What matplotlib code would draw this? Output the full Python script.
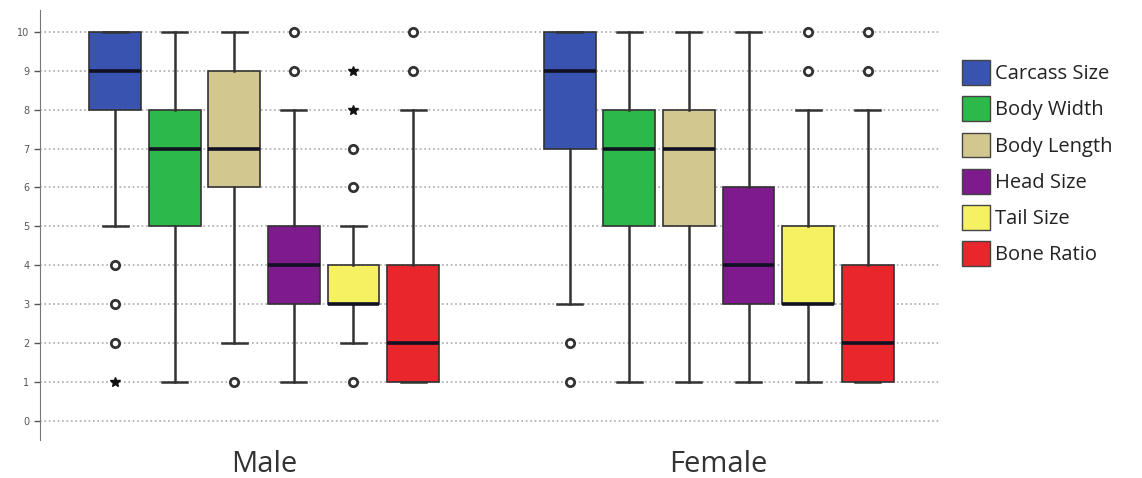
import matplotlib.pyplot as plt
from matplotlib.patches import Patch

# Data
groups = ['Male', 'Female']
measures = ['Carcass Size', 'Body Width', 'Body Length', 'Head Size', 'Tail Size', 'Bone Ratio']
colors = ['#3853b0', '#2db84a', '#d3c790', '#7d1a8c', '#f6f163', '#e8262c']

# per group: q1, median, q3, whisker low, whisker high
male_q1 = [8, 5, 6, 3, 3, 1]
male_med = [9, 7, 7, 4, 3, 2]
male_q3 = [10, 8, 9, 5, 4, 4]
male_lo = [5, 1, 2, 1, 2, 1]
male_hi = [10, 10, 10, 8, 5, 8]
male_out = [[4, 3, 2], [], [1], [9, 10], [1, 6, 7], [9, 10]]
male_ext = [[1], [], [], [], [8, 9], []]

female_q1 = [7, 5, 5, 3, 3, 1]
female_med = [9, 7, 7, 4, 3, 2]
female_q3 = [10, 8, 8, 6, 5, 4]
female_lo = [3, 1, 1, 1, 1, 1]
female_hi = [10, 10, 10, 10, 8, 8]
female_out = [[2, 1], [], [], [], [9, 10], [9, 10]]
female_ext = [[], [], [], [], [], []]

group_offset = [0, 7.63]

fig = plt.figure(figsize=(11.42, 4.78), dpi=100)
ax = fig.add_axes([0.035, 0.0795, 0.788, 0.9])

data = [(male_q1, male_med, male_q3, male_lo, male_hi, male_out, male_ext),
        (female_q1, female_med, female_q3, female_lo, female_hi, female_out, female_ext)]

for g, (q1, med, q3, lo, hi, out, ext) in enumerate(data):
    stats = []
    for i in range(len(measures)):
        stats.append(dict(q1=q1[i], med=med[i], q3=q3[i], whislo=lo[i], whishi=hi[i], fliers=out[i]))
    pos = [group_offset[g] + i for i in range(len(measures))]
    bp = ax.bxp(stats, positions=pos, widths=0.87, patch_artist=True, manage_ticks=False,
                capwidths=0.42,
                boxprops=dict(linewidth=1.2, edgecolor='#333333'),
                medianprops=dict(color='#111122', linewidth=2.6),
                whiskerprops=dict(color='#333333', linewidth=1.8),
                capprops=dict(color='#333333', linewidth=1.8),
                flierprops=dict(marker='o', markersize=6, markerfacecolor='white',
                                markeredgecolor='#333333', markeredgewidth=2))
    for patch, c in zip(bp['boxes'], colors):
        patch.set_facecolor(c)
    for i in range(len(measures)):
        if ext[i]:
            ax.plot([pos[i]] * len(ext[i]), ext[i], linestyle='none', marker='*',
                    markersize=7, color='#111111', zorder=3)

ax.set_xlim(-1.26, 13.84)
ax.set_ylim(-0.5, 10.57)
ax.set_yticks(range(0, 11))
ax.tick_params(axis='y', labelsize=7, colors='#555555', length=4, width=1)
ax.set_xticks([2.5, group_offset[1] + 2.5])
ax.set_xticklabels(groups, fontsize=21, color='#333333', family='Open Sans')
ax.tick_params(axis='x', length=0, pad=7)
ax.yaxis.grid(True, linestyle=':', color='#aaaaaa', linewidth=1.2)
ax.set_axisbelow(True)
for s in ['top', 'right', 'bottom']:
    ax.spines[s].set_visible(False)
ax.spines['left'].set_color('#777777')

handles = [Patch(facecolor=c, edgecolor='#444444', linewidth=1) for c in colors]
fig.legend(handles, measures, loc='upper left', bbox_to_anchor=(0.842, 0.874),
           frameon=False, handlelength=1.4, handleheight=1.5,
           handletextpad=0.25, labelspacing=0.58, borderaxespad=0, borderpad=0,
           labelcolor='#222222', prop=dict(family='Open Sans', size=14.5))

fig.savefig('out.png', dpi=100)
